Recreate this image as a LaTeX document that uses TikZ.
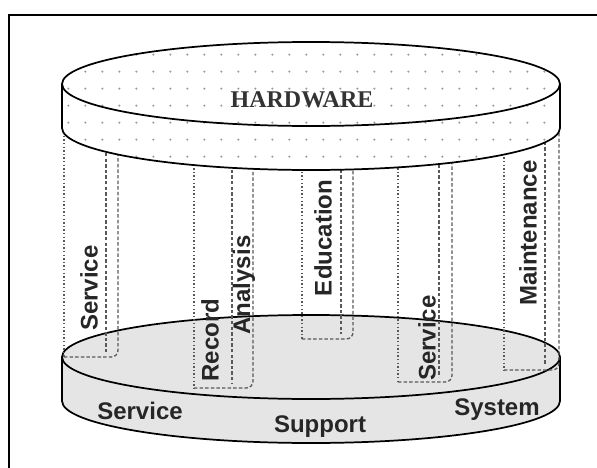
\documentclass[tikz,border=0pt]{standalone}
\usepackage{fontspec}
\setmainfont{Liberation Serif}
\setsansfont{Liberation Sans}
\usepackage{tikz}
\usetikzlibrary{patterns.meta}

\begin{document}
\begin{tikzpicture}[x=0.75pt, y=-0.75pt,
  rim/.style={line width=1.3pt, black},
  tubedot/.style={gray!70!black, line width=1pt, dash pattern=on 1pt off 1.7pt},
  tubedash/.style={gray!70!black, line width=1pt, dash pattern=on 2.6pt off 1.6pt},
  lbl/.style={font=\sffamily\bfseries\fontsize{18}{20}\selectfont, text=black!85, inner sep=0pt}]
  \useasboundingbox (0,0) rectangle (597,468);
  % frame
  \draw[line width=2.2pt] (597,15) -- (9,15) -- (9,468);
  % lower disk
  \fill[black!10] (62,357) -- (62,401)
    arc[start angle=180, end angle=0, x radius=249, y radius=42] -- (560,357)
    arc[start angle=0, end angle=-180, x radius=249, y radius=42] -- cycle;
  \draw[rim] (311,357) ellipse[x radius=249, y radius=42];
  \draw[rim] (62,357) -- (62,401)
    arc[start angle=180, end angle=0, x radius=249, y radius=42] -- (560,357);
  % tubes
  \foreach \xl/\xm/\xr/\yb in {64/106/118/357, 194/232/253/388, 302/341/353/339,
      398/439/452/382, 504/545/559/370} {
    \draw[tubedot] (\xl,125) -- (\xl,\yb);
    \draw[tubedash] (\xm,125) -- (\xm,\yb-5);
    \draw[tubedash, rounded corners=5pt] (\xl,\yb) -- (\xr,\yb) -- (\xr,125);
  }
  \node[lbl, rotate=90] (svcA) at (89,288) {Service};
  \node[lbl, rotate=90] (rec) at (210,340) {Record};
  \node[lbl, rotate=90] (ana) at (244,285) {Analysis};
  \node[lbl, rotate=90] (edu) at (323,238) {Education};
  \node[lbl, rotate=90] (svcB) at (427,338) {Service};
  \node[lbl, rotate=90] (mnt) at (528,233) {Maintenance};
  \node[lbl] (svcC) at (140,411) {Service};
  \node[lbl] (sup) at (320,427) {Support};
  \node[lbl] (sys) at (497,410) {System};
  % hardware cylinder
  \fill[white] (62,84) -- (62,128)
    arc[start angle=180, end angle=0, x radius=249, y radius=42] -- (560,84)
    arc[start angle=0, end angle=-180, x radius=249, y radius=42] -- cycle;
  \fill[pattern={Dots[distance=13pt, radius=0.9pt]}, pattern color=gray!80] (62,84) -- (62,128)
    arc[start angle=180, end angle=0, x radius=249, y radius=42] -- (560,84)
    arc[start angle=0, end angle=-180, x radius=249, y radius=42] -- cycle;
  \draw[rim] (311,84) ellipse[x radius=249, y radius=42];
  \draw[rim] (62,84) -- (62,128)
    arc[start angle=180, end angle=0, x radius=249, y radius=42] -- (560,84);
  \node[font=\rmfamily\bfseries\fontsize{18}{20}\selectfont, text=black!80] (hw) at (302,100) {HARDWARE};
\end{tikzpicture}
\end{document}
